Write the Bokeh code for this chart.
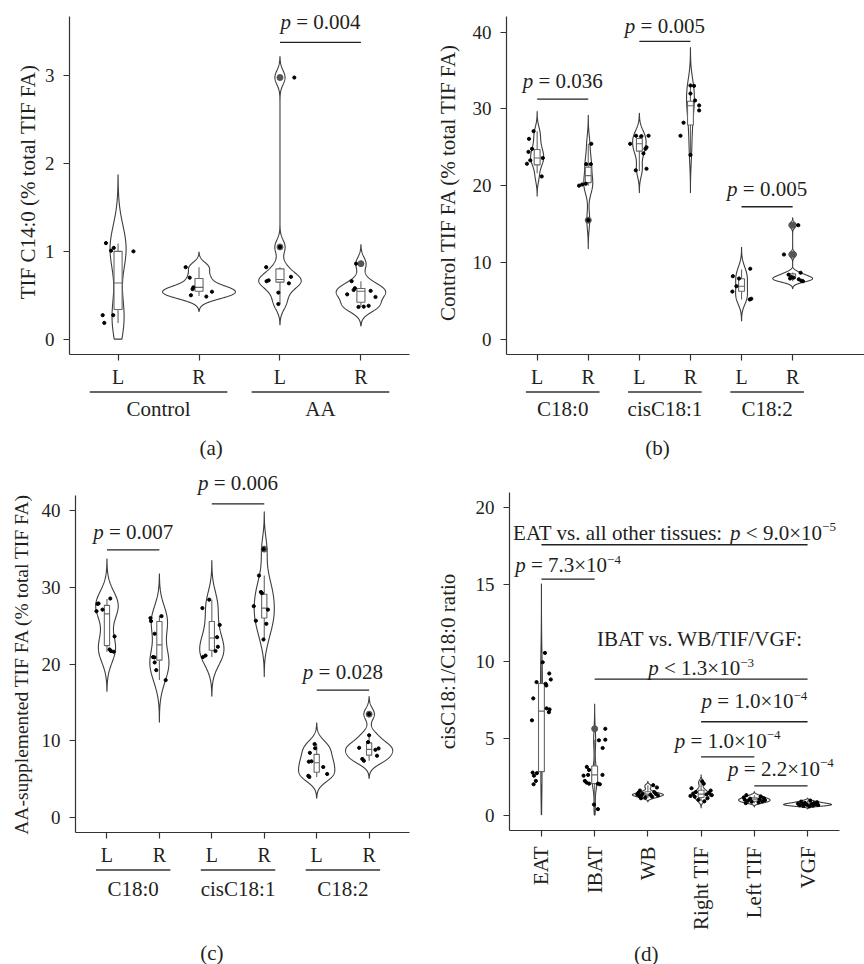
import numpy as np
from bokeh.plotting import figure
from bokeh.models import Range1d, FixedTicker
from bokeh.layouts import column, row
from bokeh.embed import file_html
from bokeh.resources import INLINE
from bokeh.core.properties import value

# ======================= DATA =======================
# ---- panel (a) ----
A_TICKS = ["L", "R", "L", "R"]
A_GROUPS = ["Control", "AA"]
A_YTITLE = "TIF C14:0 (% total TIF FA)"
A_YTICKS = [0, 1, 2, 3]
A_VALUES = [
    [1.094, 1.008, 1.04, 1.0, 0.273, 0.273, 0.185],
    [0.82, 0.70, 0.59, 0.57, 0.50, 0.485, 0.54],
    [2.98, 1.05, 0.82, 0.71, 0.67, 0.66, 0.636, 0.53, 0.40],
    [0.86, 0.66, 0.58, 0.56, 0.51, 0.55, 0.48, 0.367, 0.37, 0.38],
]
A_JITTER = [
    [-0.15, -0.086, -0.053, 0.19, -0.19, -0.06, -0.17],
    [-0.165, -0.115, -0.07, -0.08, -0.10, 0.09, 0.16],
    [0.177, 0.0, -0.17, 0.136, -0.14, -0.165, 0.11, -0.02, -0.02],
    [-0.06, -0.115, -0.075, -0.09, -0.17, 0.12, 0.18, -0.03, 0.035, 0.095],
]
A_BOX = [  # whisker low, Q1, median, Q3, whisker high
    [0.185, 0.337, 0.64, 1.0, 1.09],
    [0.49, 0.545, 0.59, 0.69, 0.82],
    [0.40, 0.65, 0.68, 0.80, 0.82],
    [0.367, 0.42, 0.545, 0.576, 0.66],
]
A_OUTLIERS = [[], [], [1.05, 2.98], [0.86]]
A_BRACKETS = [(3, 4, 3.38)]
A_PLABELS = [(0, [("p", "i"), (" = 0.004", "n")], 14)]

# ---- panel (b) ----
B_TICKS = ["L", "R", "L", "R", "L", "R"]
B_GROUPS = ["C18:0", "cisC18:1", "C18:2"]
B_YTITLE = "Control TIF FA (% total TIF FA)"
B_YTICKS = [0, 10, 20, 30, 40]
B_VALUES = [
    [27.1, 26.1, 24.8, 24.4, 23.3, 22.85, 23.6, 21.2],
    [25.45, 22.8, 22.8, 20.0, 20.15, 20.25, 15.5],
    [26.5, 26.45, 26.5, 25.45, 25.0, 24.8, 24.2, 22.0, 22.2],
    [33.05, 33.0, 32.0, 31.1, 30.45, 29.8, 28.2, 26.5, 24.0],
    [9.17, 8.2, 7.9, 6.9, 6.2, 5.17, 5.26],
    [14.85, 11.03, 8.65, 8.4, 8.1, 8.0, 7.9, 7.8, 7.6, 7.55],
]
B_JITTER = [
    [-0.07, -0.16, -0.10, -0.17, -0.135, -0.2, 0.11, 0.09],
    [0.06, -0.04, 0.05, -0.18, -0.12, -0.05, 0.0],
    [-0.065, 0.04, 0.18, -0.18, 0.14, 0.12, 0.08, -0.07, 0.14],
    [0.0, 0.07, 0.0, 0.09, 0.17, 0.17, -0.135, -0.195, 0.0],
    [0.17, -0.17, -0.05, -0.1, -0.18, 0.16, 0.19],
    [0.11, -0.17, 0.155, -0.08, -0.025, 0.015, -0.05, 0.12, 0.17, 0.2],
]
B_BOX = [
    [21.6, 22.7, 23.6, 24.7, 27.1],
    [20.0, 20.4, 21.3, 22.4, 25.45],
    [21.9, 24.5, 25.45, 26.15, 26.5],
    [24.0, 27.9, 30.4, 31.0, 33.05],
    [5.17, 6.25, 6.9, 7.87, 9.08],
    [7.55, 7.9, 8.2, 8.5, 8.7],
]
B_OUTLIERS = [[], [15.5], [], [], [], [11.03, 14.85]]
B_BRACKETS = [(1, 2, 31.27), (3, 4, 38.8), (5, 6, 17.25)]
B_PLABELS = [
    (0, [("p", "i"), (" = 0.036", "n")], 11.4),
    (1, [("p", "i"), (" = 0.005", "n")], 9.4),
    (2, [("p", "i"), (" = 0.005", "n")], 11.3),
]

# ---- panel (c) ----
C_TICKS = ["L", "R", "L", "R", "L", "R"]
C_GROUPS = ["C18:0", "cisC18:1", "C18:2"]
C_YTITLE = "AA-supplemented TIF FA (% total TIF FA)"
C_YTICKS = [0, 10, 20, 30, 40]
C_VALUES = [
    [27.9, 27.85, 26.9, 27.1, 28.55, 23.6, 21.9, 21.7, 21.6],
    [26.25, 26.0, 25.6, 23.95, 20.9, 20.87, 20.2, 19.2, 17.9],
    [28.4, 27.3, 25.1, 23.5, 22.25, 21.7, 21.1, 20.9],
    [35.0, 31.55, 29.4, 29.25, 27.55, 27.1, 25.65, 25.25, 23.2],
    [9.55, 9.0, 8.4, 7.3, 7.25, 6.55, 5.64, 5.4, 5.25],
    [13.45, 10.7, 9.06, 8.98, 8.02, 7.6, 7.37, 9.8, 8.8],
]
C_JITTER = [
    [-0.16, -0.18, -0.2, -0.085, 0.063, 0.145, 0.05, 0.076, 0.13],
    [0.04, -0.17, -0.16, -0.09, -0.12, -0.095, -0.09, -0.06, 0.12],
    [-0.05, -0.18, 0.15, 0.1, 0.115, 0.07, -0.12, -0.17],
    [-0.015, -0.1, -0.065, -0.045, -0.2, 0.07, -0.16, 0.04, -0.015],
    [-0.04, -0.03, -0.13, -0.1, -0.15, 0.125, 0.2, -0.16, -0.14],
    [0.0, 0.0, -0.19, 0.18, 0.15, -0.13, -0.1, -0.02, 0.12],
]
C_BOX = [
    [21.6, 22.4, 26.55, 27.65, 28.5],
    [17.9, 20.5, 22.5, 25.55, 26.3],
    [20.9, 21.8, 23.4, 25.55, 28.4],
    [23.2, 26.0, 27.3, 29.1, 31.55],
    [5.25, 5.86, 7.1, 8.2, 9.55],
    [7.37, 8.1, 8.85, 9.7, 10.7],
]
C_OUTLIERS = [[], [], [], [35.0], [], [13.45]]
C_BRACKETS = [(1, 2, 34.9), (3, 4, 40.9), (5, 6, 16.6)]
C_PLABELS = [
    (0, [("p", "i"), (" = 0.007", "n")], 12),
    (1, [("p", "i"), (" = 0.006", "n")], 15),
    (2, [("p", "i"), (" = 0.028", "n")], 11.7),
]

# ---- panel (d) ----
D_TICKS = ["EAT", "IBAT", "WB", "Right TIF", "Left TIF", "VGF"]
D_YTITLE = "cisC18:1/C18:0 ratio"
D_YTICKS = [0, 5, 10, 15, 20]
D_VALUES = [
    [10.56, 9.95, 9.22, 8.83, 8.66, 8.55, 8.44, 7.6, 6.95, 6.88, 6.7, 6.17, 2.77, 2.73, 2.57, 2.23, 2.01],
    [5.62, 4.91, 4.87, 4.37, 3.14, 2.94, 2.62, 2.62, 2.57, 2.23, 2.12, 2.05, 2.05, 2.01, 0.69, 0.39],
    [1.95, 1.8, 1.6, 1.5, 1.45, 1.4, 1.38, 1.35, 1.32, 1.3, 1.28, 1.25, 1.2, 1.15, 1.1],
    [2.2, 2.05, 1.75, 1.6, 1.5, 1.45, 1.4, 1.35, 1.3, 1.25, 1.2, 1.1, 1.0, 0.9],
    [1.3, 1.22, 1.15, 1.1, 1.07, 1.04, 1.0, 0.97, 0.94, 0.9, 0.87, 0.83, 0.78],
    [0.95, 0.88, 0.84, 0.8, 0.78, 0.75, 0.73, 0.71, 0.7, 0.68, 0.66, 0.64, 0.62, 0.6, 0.57],
]
D_JITTER = [
    [0.066, 0.024, 0.147, 0.176, -0.092, 0.079, 0.092, -0.154, 0.097, 0.153, 0.14, -0.178, -0.165, -0.086, -0.14, -0.105, -0.147],
    [0.2, 0.2, 0.08, 0.15, -0.147, -0.105, -0.123, 0.147, -0.208, -0.184, -0.153, -0.105, 0.061, 0.097, -0.013, 0.061],
    [0.1, 0.17, -0.15, 0.12, -0.18, -0.1, 0.15, -0.2, 0.05, -0.12, 0.19, -0.16, 0.08, -0.05, -0.13],
    [0.02, 0.05, -0.18, 0.18, -0.1, 0.15, -0.15, 0.1, 0.2, -0.2, -0.12, 0.12, -0.05, 0.06],
    [-0.15, 0.12, -0.2, 0.18, -0.08, 0.1, -0.18, 0.2, -0.12, 0.15, -0.05, 0.08, -0.16],
    [0.05, -0.12, 0.18, -0.05, 0.12, -0.18, 0.08, -0.1, 0.15, -0.02, 0.2, -0.15, 0.1, -0.08, 0.03],
]
D_BOX = [
    [2.01, 2.83, 6.77, 8.57, 10.56],
    [0.39, 2.05, 2.62, 3.2, 4.91],
    [1.1, 1.27, 1.37, 1.52, 1.95],
    [0.9, 1.15, 1.37, 1.62, 2.2],
    [0.78, 0.9, 1.04, 1.13, 1.3],
    [0.57, 0.65, 0.71, 0.78, 0.95],
]
D_OUTLIERS = [[], [5.62], [], [], [], []]
D_BRACKETS = [(1, 6, 17.6), (1, 2, 15.36), (2, 6, 8.85), (4, 6, 6.08), (4, 5, 3.79), (5, 6, 1.9)]
D_PLABELS = [
    (0, [("EAT vs. all other tissues: ", "n"), ("p", "i"), (" < 9.0\u00d710", "n"), ("\u22125", "s")], 5.7),
    (1, [("p", "i"), (" = 7.3\u00d710", "n"), ("\u22124", "s")], 7.7),
    (2, [("IBAT vs. WB/TIF/VGF:", "n")], 33.7),
    (2, [("p", "i"), (" < 1.3\u00d710", "n"), ("\u22123", "s")], 4.7),
    (3, [("p", "i"), (" = 1.0\u00d710", "n"), ("\u22124", "s")], 14),
    (4, [("p", "i"), (" = 1.0\u00d710", "n"), ("\u22124", "s")], 10),
    (5, [("p", "i"), (" = 2.2\u00d710", "n"), ("\u22124", "s")], 10.7),
]

# ======================= STYLE =======================
FONT = "Liberation Serif"
TXT = "#231f20"
AXC = "#333333"
VCOL = "#3d3d3d"
BCOL = "#666666"
OCOL = "#555555"
ANN_FS = 21
SUP_FS = 13
SUP_RISE = 8
LAB_FS = "21px"

W_TIMES = {" ": .25, ".": .25, ":": .278, "/": .278, "<": .564, "=": .564, "\u00d7": .564,
           "\u2212": .564, "A": .722, "B": .667, "C": .667, "E": .611, "F": .556, "G": .722,
           "I": .333, "T": .611, "V": .722, "W": .944, "L": .611, "R": .667, "a": .444,
           "e": .444, "h": .5, "i": .278, "l": .278, "o": .5, "r": .333, "s": .389, "t": .278,
           "u": .5, "v": .5, "p": .5, "c": .444}


def twidth(s, fs):
    return sum(W_TIMES.get(ch, 0.5) for ch in s) * fs


def violin_outline(vals, lims):
    v = np.asarray(vals, float)
    n = len(v)
    sd = v.std(ddof=1)
    q1, q3 = np.percentile(v, [25, 75])
    lo = min(sd, (q3 - q1) / 1.34)
    if lo <= 0:
        lo = sd
    bw = 0.9 * lo * n ** -0.2
    ys = np.linspace(v.min() - 3 * bw, v.max() + 3 * bw, 512)
    dens = np.exp(-0.5 * ((ys[:, None] - v[None, :]) / bw) ** 2).sum(1) / (n * bw * np.sqrt(2 * np.pi))
    keep = (ys >= lims[0]) & (ys <= lims[1])
    return ys[keep], dens[keep]


def draw_label(fig, xc, y, segs, gap):
    """p-value text; gap = pixels between the bracket line and the text baseline."""
    pieces = []
    cur = 0.0
    for txt, kind in segs:
        fs = SUP_FS if kind == "s" else ANN_FS
        lead = len(txt) - len(txt.lstrip(" "))
        trail = len(txt) - len(txt.rstrip(" "))
        core = txt.strip(" ")
        cur += lead * W_TIMES[" "] * fs
        pieces.append((core, kind, fs, cur))
        cur += twidth(core, fs) + trail * W_TIMES[" "] * fs
    total = cur
    for core, kind, fs, off in pieces:
        lift = gap + (SUP_RISE if kind == "s" else 0) + 0.3 * fs
        fig.text(x=[xc], y=[y], text=[core], x_offset=off - total / 2, y_offset=-lift,
                 text_font=value(FONT), text_font_size=f"{fs}px",
                 text_font_style="italic" if kind == "i" else "normal",
                 text_align="left", text_baseline="middle", text_color=TXT)


def make_panel(cfg):
    p = figure(width=cfg["W"], height=cfg["H"], x_range=Range1d(*cfg["xr"]), y_range=Range1d(*cfg["yr"]),
               output_backend="svg", toolbar_location=None,
               min_border_left=cfg["bl"], min_border_right=cfg["br"],
               min_border_top=cfg["bt"], min_border_bottom=cfg["bb"])
    p.outline_line_color = None
    p.grid.visible = False
    n = len(cfg["ticks"])
    p.xaxis.ticker = FixedTicker(ticks=list(range(1, n + 1)))
    p.xaxis.major_label_overrides = {i + 1: t for i, t in enumerate(cfg["ticks"])}
    p.yaxis.ticker = FixedTicker(ticks=cfg["yticks"])
    if cfg.get("ybounds"):
        p.yaxis.bounds = cfg["ybounds"]
    for ax in (p.xaxis, p.yaxis):
        ax.axis_line_color = AXC
        ax.axis_line_width = 1.2
        ax.major_tick_line_color = AXC
        ax.major_tick_line_width = 1.2
        ax.major_tick_in = 0
        ax.major_tick_out = 6
        ax.minor_tick_line_color = None
        ax.major_label_text_font = FONT
        ax.major_label_text_color = TXT
    if cfg.get("rot"):
        p.xaxis.major_label_orientation = np.pi / 2
        p.xaxis.major_label_text_font_size = LAB_FS
        p.xaxis.major_label_standoff = 10
    else:
        p.xaxis.major_label_text_font_size = "20px"
        p.xaxis.major_label_standoff = 5
    p.yaxis.major_label_text_font_size = "19px"
    p.yaxis.major_label_standoff = 9
    p.yaxis.axis_label = cfg["ytitle"]
    p.yaxis.axis_label_text_font = FONT
    p.yaxis.axis_label_text_font_size = cfg.get("title_fs", LAB_FS)
    p.yaxis.axis_label_text_font_style = "normal"
    p.yaxis.axis_label_text_color = TXT
    p.yaxis.axis_label_standoff = cfg["tstand"]

    vals, jit, box, outl = cfg["values"], cfg["jitter"], cfg["box"], cfg["outliers"]
    outlines = [violin_outline(v, cfg["lims"]) for v in vals]
    dmax = max(d.max() for _, d in outlines)
    xs, ys = [], []
    for i, (yy, dd) in enumerate(outlines):
        c = i + 1
        hw = dd / dmax * cfg["vwidth"] / 2
        xs.append(np.concatenate([c - hw, (c + hw)[::-1]]))
        ys.append(np.concatenate([yy, yy[::-1]]))
    p.patches(xs=xs, ys=ys, fill_color="white", line_color=VCOL, line_width=1.1)

    cx = np.arange(1, n + 1, dtype=float)
    b = np.array(box)
    bwid = cfg["bwidth"]
    p.segment(x0=cx, y0=b[:, 3], x1=cx, y1=b[:, 4], line_color=BCOL, line_width=1.1)
    p.segment(x0=cx, y0=b[:, 0], x1=cx, y1=b[:, 1], line_color=BCOL, line_width=1.1)
    p.quad(left=cx - bwid / 2, right=cx + bwid / 2, bottom=b[:, 1], top=b[:, 3],
           fill_color="white", line_color=BCOL, line_width=1.1)
    p.segment(x0=cx - bwid / 2, y0=b[:, 2], x1=cx + bwid / 2, y1=b[:, 2], line_color=BCOL, line_width=1.1)

    ox = [i + 1 for i, o in enumerate(outl) for _ in o]
    oy = [v for o in outl for v in o]
    if ox:
        p.scatter(x=ox, y=oy, size=6, color=OCOL)
    px = [i + 1 + d for i, js in enumerate(jit) for d in js]
    py = [v for vs in vals for v in vs]
    p.scatter(x=px, y=py, size=3.2, color="black")

    br = cfg["brackets"]
    p.segment(x0=[a for a, _, _ in br], y0=[y for _, _, y in br],
              x1=[bb for _, bb, _ in br], y1=[y for _, _, y in br], line_color="#222222", line_width=1.3)
    for j, (k, segs, gap) in enumerate(cfg["plabels"]):
        if j in cfg.get("top_labels", ()):
            continue
        a, bb, y = br[k]
        draw_label(p, (a + bb) / 2, y, segs, gap)
    return p


def make_top_strip(p, cfg):
    ht = cfg["Ht"]
    s = figure(width=cfg["W"], height=ht, x_range=p.x_range, y_range=Range1d(ht, 0),
               output_backend="svg", toolbar_location=None, x_axis_type=None, y_axis_type=None,
               min_border_left=cfg["bl"], min_border_right=cfg["br"], min_border_top=0, min_border_bottom=0)
    s.outline_line_color = None
    s.grid.visible = False
    frame_h = cfg["H"] - cfg["bt"] - cfg["bb"]
    ppu = frame_h / (cfg["yr"][1] - cfg["yr"][0])
    br = cfg["brackets"]
    for j, (k, segs, gap) in enumerate(cfg["plabels"]):
        if j not in cfg.get("top_labels", ()):
            continue
        a, bb, y = br[k]
        ys = ht + cfg["bt"] + (cfg["yr"][1] - y) * ppu
        draw_label(s, (a + bb) / 2, ys, segs, gap)
    return s


def make_strip(p, cfg):
    hs = cfg["Hs"]
    s = figure(width=cfg["W"], height=hs, x_range=p.x_range, y_range=Range1d(hs, 0),
               output_backend="svg", toolbar_location=None, x_axis_type=None, y_axis_type=None,
               min_border_left=cfg["bl"], min_border_right=cfg["br"], min_border_top=0, min_border_bottom=0)
    s.outline_line_color = None
    s.grid.visible = False
    groups = cfg.get("groups")
    if groups:
        gc = [2 * g + 1.5 for g in range(len(groups))]
        hw = cfg["ulhalf"]
        s.segment(x0=[g - hw for g in gc], y0=[cfg["uly"]] * len(gc), x1=[g + hw for g in gc],
                  y1=[cfg["uly"]] * len(gc), line_color="#333333", line_width=1.3)
        s.text(x=gc, y=[cfg["gly"]] * len(gc), text=groups, text_font=value(FONT), text_font_size=LAB_FS,
               text_align="center", text_baseline="middle", text_color=TXT)
    s.text(x=[cfg["letter_x"]], y=[cfg["letter_y"]], text=[cfg["letter"]], text_font=value(FONT),
           text_font_size=LAB_FS, text_align="center", text_baseline="middle", text_color=TXT)
    return s


cfgA = dict(W=432, H=390, Hs=70, bl=69, br=23, bt=9, bb=36, xr=(0.4, 4.6), yr=(-0.175, 3.755),
            ybounds=(-0.175, 3.675), ticks=A_TICKS, yticks=A_YTICKS, ytitle=A_YTITLE, tstand=2,
            values=A_VALUES, jitter=A_JITTER, box=A_BOX, outliers=A_OUTLIERS, lims=(0, 3.5),
            vwidth=0.9, bwidth=0.1, brackets=A_BRACKETS, plabels=A_PLABELS,
            groups=A_GROUPS, ulhalf=0.85, uly=1.5, gly=18,
            letter="(a)", letter_x=2.15, letter_y=57)
cfgB = dict(W=432, H=390, Hs=70, bl=70, br=0, bt=9, bb=36, xr=(0.4, 7.406), yr=(-2, 42.95),
            ybounds=(-2, 42), ticks=B_TICKS, yticks=B_YTICKS, ytitle=B_YTITLE, tstand=10,
            values=B_VALUES, jitter=B_JITTER, box=B_BOX, outliers=B_OUTLIERS, lims=(0, 40),
            vwidth=0.78, bwidth=0.115, brackets=B_BRACKETS, plabels=B_PLABELS,
            groups=B_GROUPS, ulhalf=0.72, uly=1.5, gly=18,
            letter="(b)", letter_x=3.357, letter_y=57)
cfgC = dict(W=432, H=373, Ht=35, Hs=96, bl=75, br=23, bt=0, bb=36, xr=(0.4, 6.77), yr=(-2, 42),
            ticks=C_TICKS, yticks=C_YTICKS, ytitle=C_YTITLE, title_fs="19.5px", tstand=7,
            values=C_VALUES, jitter=C_JITTER, box=C_BOX, outliers=C_OUTLIERS, lims=(0, 40),
            vwidth=0.9, bwidth=0.1, brackets=C_BRACKETS, plabels=C_PLABELS, top_labels={1},
            groups=C_GROUPS, ulhalf=0.71, uly=1.5, gly=20,
            letter="(c)", letter_x=3.0, letter_y=84)
cfgD = dict(W=432, H=474, Hs=30, bl=70, br=25, bt=32, bb=104, xr=(0.4, 6.6), yr=(-1, 21),
            ticks=D_TICKS, yticks=D_YTICKS, ytitle=D_YTITLE, rot=True, tstand=13,
            values=D_VALUES, jitter=D_JITTER, box=D_BOX, outliers=D_OUTLIERS, lims=(0, 20),
            vwidth=0.9, bwidth=0.11, brackets=D_BRACKETS, plabels=D_PLABELS,
            groups=None, letter="(d)", letter_x=2.97, letter_y=19)

cols = []
for cfg in (cfgA, cfgB, cfgC, cfgD):
    mp = make_panel(cfg)
    parts = []
    if cfg.get("Ht"):
        parts.append(make_top_strip(mp, cfg))
    parts += [mp, make_strip(mp, cfg)]
    cols.append(column(*parts, spacing=0))

layout = column(row(cols[0], cols[1], spacing=0), row(cols[2], cols[3], spacing=0), spacing=0)
open("out.html", "w").write(file_html(layout, INLINE))
